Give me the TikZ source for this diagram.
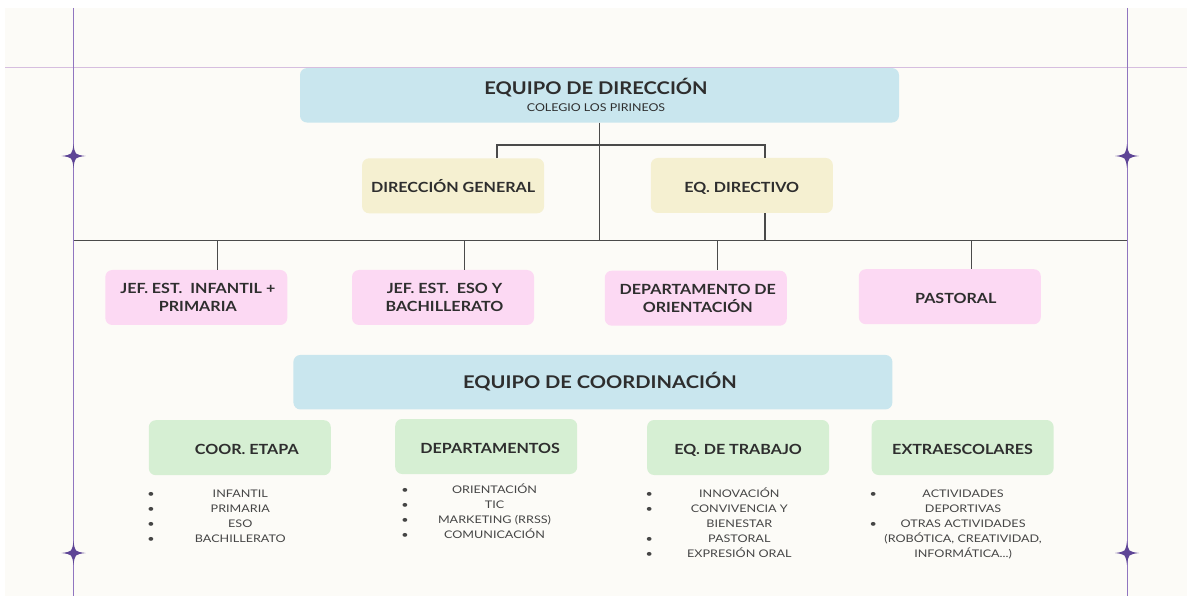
\documentclass[tikz,border=0pt]{standalone}
\usepackage{fontspec}
\setmainfont{Lato}
\newfontfamily\headfont[FakeStretch=1.15]{Lato}
\newfontfamily\listfont[FakeStretch=1.2]{Lato}
\definecolor{bgc}{HTML}{FCFBF7}
\definecolor{hlinec}{HTML}{D6BEDF}
\definecolor{vlinec}{HTML}{9075C0}
\definecolor{starc}{HTML}{5E4596}
\definecolor{conc}{HTML}{4A4A4A}
\definecolor{bluec}{HTML}{C9E6EE}
\definecolor{yellowc}{HTML}{F5F0D1}
\definecolor{pinkc}{HTML}{FCD9F3}
\definecolor{greenc}{HTML}{D6EFD3}
\definecolor{txtc}{HTML}{2E2E2E}
\definecolor{listc}{HTML}{454545}
\newcommand{\lblstrut}{\rule[-0.2em]{0pt}{1.37em}}
\newcommand{\bigstrut}{\rule[-0.2em]{0pt}{1.1em}}
\begin{document}
\begin{tikzpicture}[x=1pt,y=-1pt,
  box/.style={rounded corners=7pt, inner sep=0pt, align=center, text=txtc,
    font=\headfont\bfseries\fontsize{14}{18}\selectfont, minimum width=182pt, minimum height=55pt},
  bigbox/.style={box, fill=bluec, minimum width=599pt, minimum height=54.5pt},
  ybox/.style={box, fill=yellowc},
  pbox/.style={box, fill=pinkc},
  gbox/.style={box, fill=greenc},
  conn/.style={draw=conc, line width=1.3pt},
  listtxt/.style={anchor=north, align=center, inner sep=0pt, text=listc,
    font=\listfont\fontsize{10.5}{15}\selectfont},
  sparkle/.pic={\fill[starc] (0,-12) .. controls (1.4,-1.4) .. (12,0)
     .. controls (1.4,1.4) .. (0,12) .. controls (-1.4,1.4) .. (-12,0)
     .. controls (-1.4,-1.4) .. cycle;}
]
\useasboundingbox (0,0) rectangle (1187,596);
\fill[white] (0,0) rectangle (1187,596);
\fill[bgc] (5,8) rectangle (1187,596);
\draw[hlinec, line width=0.8pt] (5,67.7) -- (1187,67.7);
\draw[vlinec, line width=0.8pt] (73.5,8) -- (73.5,596);
\draw[vlinec, line width=0.8pt] (1127,8) -- (1127,596);
\pic at (73.5,156) {sparkle};
\pic at (73.5,553) {sparkle};
\pic at (1127,156) {sparkle};
\pic at (1127,553) {sparkle};

% connector coordinates
\coordinate (L) at (73.5,240.7);
\coordinate (R) at (1127,240.7);
\coordinate (bl) at (497,145);
\coordinate (br) at (765,145);
\coordinate (d1) at (217.8,240.7);
\coordinate (d2) at (464.2,240.7);
\coordinate (d3) at (717.4,240.7);
\coordinate (d4) at (971.2,240.7);

% boxes
\node[bigbox] (dir) at (599.5,95.3) {{\fontsize{17.5}{20}\selectfont EQUIPO DE DIRECCIÓN\hspace*{7pt}}\\[-1pt]
  {\mdseries\fontsize{10.8}{12}\selectfont COLEGIO LOS PIRINEOS\hspace*{7pt}}};
\node[ybox] (dg) at (453.1,185.8) {\lblstrut DIRECCIÓN GENERAL};
\node[ybox] (ed) at (741.8,185.5) {\lblstrut EQ. DIRECTIVO};
\node[pbox] (j1) at (196.3,297.5) {\hspace*{3pt}JEF. EST.\ \ INFANTIL +\\\hspace*{3pt}PRIMARIA};
\node[pbox] (j2) at (443,297.5) {\hspace*{3pt}JEF. EST.\ \ ESO Y\\\hspace*{3pt}BACHILLERATO};
\node[pbox] (dpo) at (695.8,298.2) {\hspace*{4pt}DEPARTAMENTO DE\\\hspace*{4pt}ORIENTACIÓN};
\node[pbox] (pas) at (949.8,296.7) {\lblstrut\hspace*{12pt}PASTORAL};
\node[bigbox] (coord) at (592.9,382.2) {\fontsize{17.5}{20}\selectfont\bigstrut\hspace*{14pt}EQUIPO DE COORDINACIÓN};
\node[gbox] (ce) at (239.8,447.7) {\lblstrut\hspace*{14pt}COOR. ETAPA};
\node[gbox] (dep) at (486.2,446.5) {\lblstrut\hspace*{8pt}DEPARTAMENTOS};
\node[gbox] (et) at (738.1,447.5) {\lblstrut EQ. DE TRABAJO};
\node[gbox] (ex) at (962.6,447.5) {\lblstrut EXTRAESCOLARES};

% connectors
\draw[conn] (dir.south) -- (dir.south |- L);
\draw[conn] (bl |- dg.north) -- (bl) -- (br) -- (br |- ed.north);
\draw[conn] (br |- ed.south) -- (br |- L);
\draw[conn] (L) -- (R);
\draw[conn] (d1) -- (d1 |- j1.north);
\draw[conn] (d2) -- (d2 |- j2.north);
\draw[conn] (d3) -- (d3 |- dpo.north);
\draw[conn] (d4) -- (d4 |- pas.north);

% lists
\node[listtxt] (l1) at (240.3,487.1) {\strut INFANTIL\\PRIMARIA\\ESO\\BACHILLERATO};
\node[listtxt] (b1) at (151,487.1) {\strut•\\•\\•\\•};
\node[listtxt] (l2) at (494.5,482.7) {\strut ORIENTACIÓN\\TIC\\MARKETING (RRSS)\\COMUNICACIÓN};
\node[listtxt] (b2) at (405,482.7) {\strut•\\•\\•\\•};
\node[listtxt] (l3) at (739.3,487.1) {\strut INNOVACIÓN\\CONVIVENCIA Y\\BIENESTAR\\PASTORAL\\EXPRESIÓN ORAL};
\node[listtxt] (b3) at (649.3,487.1) {\strut•\\•\\\strut\\•\\•};
\node[listtxt] (l4) at (963.1,487.1) {\strut ACTIVIDADES\\DEPORTIVAS\\OTRAS ACTIVIDADES\\(ROBÓTICA, CREATIVIDAD,\\INFORMÁTICA...)};
\node[listtxt] (b4) at (873.2,487.1) {\strut•\\\strut\\•};
\end{tikzpicture}
\end{document}
